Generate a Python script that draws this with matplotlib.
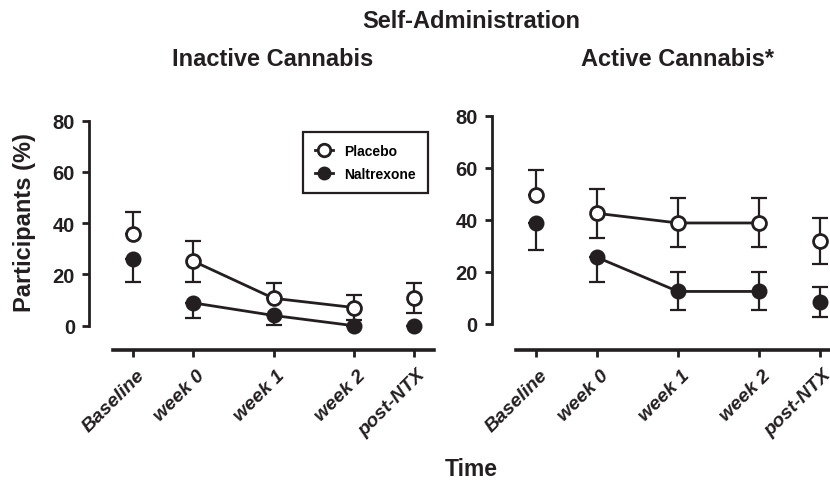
import matplotlib; matplotlib.use("Agg")
import matplotlib.pyplot as plt
import matplotlib.transforms as mtransforms
from matplotlib.lines import Line2D

plt.rcParams['font.family'] = ['Liberation Sans', 'DejaVu Sans']
plt.rcParams['font.weight'] = 'bold'
INK = "#231f20"

# data (percent of participants)
times = ["Baseline", "week 0", "week 1", "week 2", "post-NTX"]
xpos = [0, 0.75, 1.75, 2.75, 3.5]

inact_plac = [35.7, 25.2, 10.7, 7.1, 10.7]
inact_plac_lo = [0, 8.0, 0, 4.9, 5.6]
inact_plac_hi = [8.8, 8.0, 5.9, 4.9, 5.8]
inact_ntx = [26.2, 8.9, 4.0, 0, 0]
inact_ntx_lo = [9.1, 5.9, 3.8, 0, 0]
inact_ntx_hi = [0, 0, 0, 0, 0]

act_plac = [49.5, 42.5, 38.8, 38.8, 31.8]
act_plac_lo = [0, 9.3, 9.2, 9.2, 8.8]
act_plac_hi = [9.7, 9.4, 9.4, 9.4, 8.9]
act_ntx = [38.7, 25.6, 12.5, 12.5, 8.3]
act_ntx_lo = [10.3, 9.3, 7.0, 7.0, 5.7]
act_ntx_hi = [0, 0, 7.3, 7.3, 6.0]

W, H = 830, 481
fig = plt.figure(figsize=(W/100, H/100), dpi=100)

def px(l, b, w, h):
    # pixel box (left, y of bottom, width, height) -> figure fraction
    return [l/W, (H-b)/H, w/W, h/H]

def panel(rect, off_left, off_bottom, plac, plo, phi, ntx, nlo, nhi):
    ax = fig.add_axes(rect)
    ax.set_xlim(-0.25, 3.75); ax.set_ylim(0, 80)
    for s in ["top", "right"]:
        ax.spines[s].set_visible(False)
    ax.spines["left"].set_position(("outward", off_left))
    ax.spines["bottom"].set_position(("outward", off_bottom))
    ax.spines["left"].set_linewidth(2.0)
    ax.spines["bottom"].set_linewidth(2.6)
    for s in ["left", "bottom"]:
        ax.spines[s].set_color(INK)
    ax.set_yticks([0, 20, 40, 60, 80])
    ax.set_xticks(xpos)
    ax.tick_params(axis="y", length=5, width=2, pad=5, labelsize=14.5, colors=INK)
    ax.tick_params(axis="x", length=5, width=2, pad=3, labelsize=14, colors=INK)
    ax.set_xticklabels(times, rotation=45, ha="right", va="top", rotation_mode="anchor",
                       style="italic", weight="bold")
    shift = mtransforms.ScaledTranslation(3/100, -5/100, fig.dpi_scale_trans)
    for lab in ax.get_xticklabels():
        lab.set_transform(lab.get_transform() + shift)
    for lab in ax.get_yticklabels():
        lab.set_fontweight("bold")

    # connected segment week 0 .. week 2
    ax.plot(xpos[1:4], plac[1:4], color=INK, lw=2.0, zorder=2, clip_on=False)
    ax.plot(xpos[1:4], ntx[1:4], color=INK, lw=2.0, zorder=2, clip_on=False)
    ax.errorbar(xpos, plac, yerr=[plo, phi], fmt="none", ecolor=INK, elinewidth=1.6,
                capsize=6, capthick=1.6, zorder=1, clip_on=False)
    ax.errorbar(xpos, ntx, yerr=[nlo, nhi], fmt="none", ecolor=INK, elinewidth=1.6,
                capsize=6, capthick=1.6, zorder=1, clip_on=False)
    ax.plot(xpos, plac, ls="none", marker="o", ms=10, mfc="white", mec=INK, mew=2.0,
            zorder=3, clip_on=False)
    ax.plot(xpos, ntx, ls="none", marker="o", ms=10, mfc=INK, mec=INK, mew=1.5,
            zorder=4, clip_on=False)
    return ax

ax1 = panel(px(113, 326.7, 321, 205), 17.3, 17.5,
            inact_plac, inact_plac_lo, inact_plac_hi, inact_ntx, inact_ntx_lo, inact_ntx_hi)
ax2 = panel(px(516, 325, 324, 208.3), 17.5, 18.7,
            act_plac, act_plac_lo, act_plac_hi, act_ntx, act_ntx_lo, act_ntx_hi)

h_p = Line2D([], [], color=INK, lw=2, marker="o", ms=9, mfc="white", mec=INK, mew=2)
h_n = Line2D([], [], color=INK, lw=2, marker="o", ms=9, mfc=INK, mec=INK)
leg = fig.legend([h_p, h_n], ["Placebo", "Naltrexone"], loc="upper left",
                 bbox_to_anchor=(302.7/W, 1-132.7/H), borderaxespad=0, fancybox=False,
                 prop={"size": 10, "weight": "bold"}, handlelength=1.3, handletextpad=0.8,
                 labelspacing=0.6, borderpad=0.9, framealpha=1)
leg.get_frame().set_edgecolor(INK)
leg.get_frame().set_linewidth(1.6)

fig.text(471/W, 1-21/H, "Self-Administration", ha="center", va="center", fontsize=17, color=INK)
fig.text(273/W, 1-60/H, "Inactive Cannabis", ha="center", va="center", fontsize=17, color=INK)
fig.text(677/W, 1-60/H, "Active Cannabis*", ha="center", va="center", fontsize=17, color=INK)
fig.text(471/W, 1-470/H, "Time", ha="center", va="center", fontsize=16.5, color=INK)
fig.text(25/W, 1-223/H, "Participants (%)", ha="center", va="center", rotation=90,
         fontsize=17, color=INK)

fig.savefig("out.png", dpi=100)
